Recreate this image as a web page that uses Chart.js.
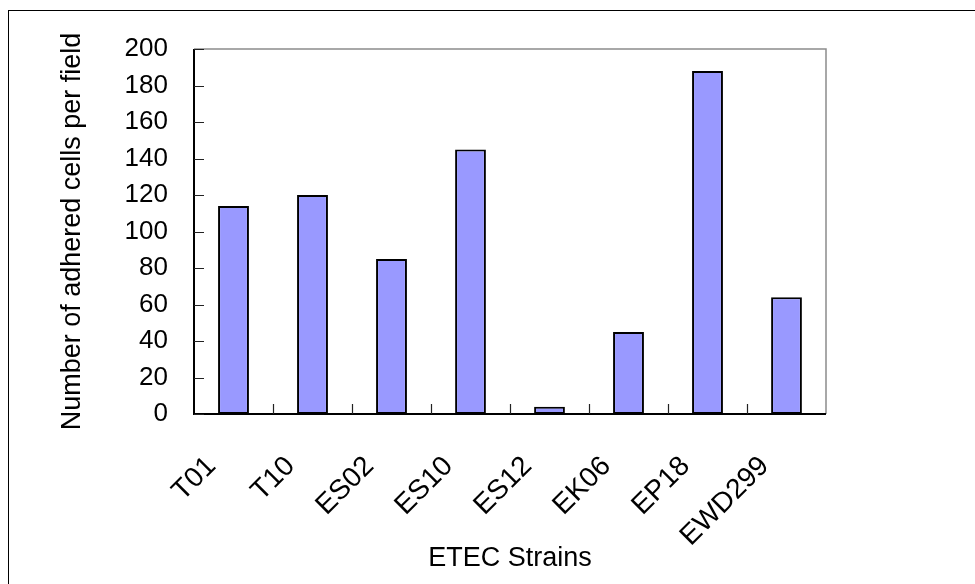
<!DOCTYPE html>
<html><head><meta charset="utf-8">
<script src="https://cdn.jsdelivr.net/npm/chart.js@4"></script>
<style>html,body{margin:0;padding:0;background:#fff;}canvas{display:block;}</style>
</head><body>
<canvas id="c" width="975" height="584"></canvas>
<script>
const categories = ["T01","T10","ES02","ES10","ES12","EK06","EP18","EWD299"];
const adheredCells = [114, 120, 85, 145, 4, 45, 188, 64];
const yTicks = [0,20,40,60,80,100,120,140,160,180,200];
const yTitle = "Number of adhered cells per field";
const xTitle = "ETEC Strains";

const FONT = "'Liberation Sans', Arial, sans-serif";

const framePlugin = {
  id: 'frame',
  beforeDraw(chart) {
    const ctx = chart.ctx;
    ctx.save();
    ctx.fillStyle = '#fff';
    ctx.fillRect(0,0,chart.width,chart.height);
    ctx.strokeStyle = '#000';
    ctx.lineWidth = 1;
    ctx.strokeRect(8.5, 10.5, 2000, 2000);
    ctx.restore();
  },
  afterDatasetsDraw(chart) {
    const ctx = chart.ctx;
    const a = chart.chartArea;
    const x = chart.scales.x, y = chart.scales.y;
    ctx.save();
    ctx.strokeStyle = '#8c8c8c';
    ctx.lineWidth = 1.5;
    ctx.beginPath();
    ctx.moveTo(a.left, a.top); ctx.lineTo(a.right, a.top); ctx.lineTo(a.right, a.bottom);
    ctx.stroke();
    ctx.strokeStyle = '#000';
    ctx.lineWidth = 2;
    ctx.beginPath();
    ctx.moveTo(a.left, a.top); ctx.lineTo(a.left, a.bottom); ctx.lineTo(a.right, a.bottom);
    ctx.stroke();
    ctx.lineWidth = 1.2;
    ctx.strokeStyle = '#222';
    ctx.beginPath();
    yTicks.forEach(v => {
      const py = Math.round(y.getPixelForValue(v)) + 0.5;
      ctx.moveTo(a.left, py); ctx.lineTo(a.left + 10, py);
    });
    for (let i = 0; i < categories.length - 1; i++) {
      const px = Math.round((x.getPixelForValue(i) + x.getPixelForValue(i + 1)) / 2) + 0.5;
      ctx.moveTo(px, a.bottom); ctx.lineTo(px, a.bottom - 10);
    }
    ctx.stroke();
    ctx.restore();
  }
};

new Chart(document.getElementById('c'), {
  type: 'bar',
  data: {
    labels: categories,
    datasets: [{
      data: adheredCells,
      backgroundColor: '#9999FF',
      borderColor: '#000',
      borderWidth: 2,
      borderSkipped: false,
      barPercentage: 0.39,
      categoryPercentage: 1.0
    }]
  },
  options: {
    responsive: false,
    animation: false,
    devicePixelRatio: 1,
    layout: { padding: { top: 49, right: 149, left: 0, bottom: 0 } },
    plugins: { legend: { display: false }, tooltip: { enabled: false } },
    scales: {
      x: {
        grid: { display: false, drawTicks: false },
        border: { display: false },
        ticks: {
          autoSkip: false, minRotation: 45, maxRotation: 45,
          labelOffset: -22, padding: 36,
          color: '#000', font: { family: FONT, size: 28 }
        },
        title: { display: true, text: xTitle, color: '#000',
          font: { family: FONT, size: 27 }, padding: { top: 0, bottom: 9 } },
        afterFit(s) { s.height = 170; }
      },
      y: {
        min: 0, max: 200,
        grid: { display: false, drawTicks: false },
        border: { display: false },
        afterBuildTicks(s) { s.ticks = yTicks.map(v => ({ value: v })); },
        ticks: { padding: 26, color: '#000', font: { family: FONT, size: 26 } },
        title: { display: true, text: yTitle, color: '#000',
          font: { family: FONT, size: 27 }, padding: { top: 56, bottom: 0 } },
        afterFit(s) { s.width = 194; }
      }
    }
  },
  plugins: [framePlugin]
});
</script>
</body></html>
